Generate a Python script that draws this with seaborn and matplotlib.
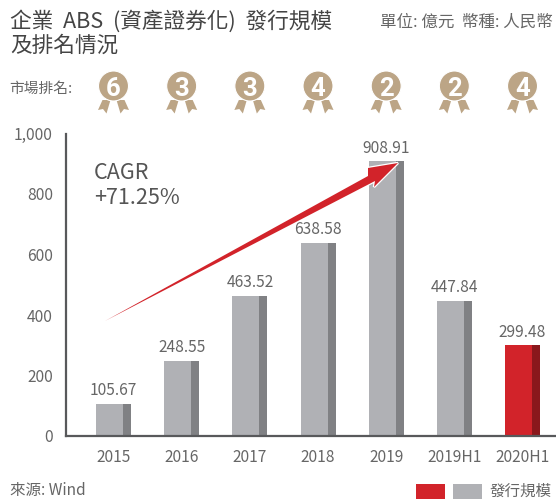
import matplotlib
matplotlib.use("Agg")
import matplotlib.pyplot as plt
import seaborn as sns
import pandas as pd
from matplotlib.patches import Circle, Polygon, Rectangle

categories = ["2015", "2016", "2017", "2018", "2019", "2019H1", "2020H1"]
values = [105.67, 248.55, 463.52, 638.58, 908.91, 447.84, 299.48]
value_labels = ["105.67", "248.55", "463.52", "638.58", "908.91", "447.84", "299.48"]
ranks = ["6", "3", "3", "4", "2", "2", "4"]
yticks = [0, 200, 400, 600, 800, 1000]
ytick_labels = ["0", "200", "400", "600", "800", "1,000"]
front_colors = ["#b0b1b5"] * 6 + ["#d2232a"]
side_colors = ["#808184"] * 6 + ["#8a181c"]

sns.set_theme(style="white")
plt.rcParams["font.family"] = ["Noto Sans CJK TC", "DejaVu Sans"]
TXT = "#666666"
W, H = 556, 499
fig = plt.figure(figsize=(W / 100, H / 100), dpi=100, facecolor="white")
ax = fig.add_axes([66 / W, 1 - 436 / H, (W - 66) / W, (436 - 133.5) / H])
df = pd.DataFrame({"cat": categories, "val": values})
BW, FW = 0.513, 0.396
sns.barplot(data=df, x="cat", y="val", hue="cat", palette=side_colors, legend=False,
            width=BW, saturation=1, ax=ax, dodge=False, linewidth=0)
n0 = len(ax.patches)
sns.barplot(data=df, x="cat", y="val", hue="cat", palette=front_colors, legend=False,
            width=FW, saturation=1, ax=ax, dodge=False, linewidth=0)
for p in ax.patches[n0:]:
    p.set_x(p.get_x() - (BW - FW) / 2)
for p, lab in zip(ax.patches[:n0], value_labels):
    ax.text(p.get_x() + p.get_width() / 2, p.get_height() + 15, lab, ha="center", va="bottom",
            fontsize=11.2, color=TXT)
ax.set_xlim(-0.698, 6.49)
ax.set_ylim(0, 1000)
ax.set_yticks(yticks, ytick_labels)
ax.set_xlabel("")
ax.set_ylabel("")
ax.tick_params(axis="both", length=0, labelsize=11.2, labelcolor=TXT)
ax.tick_params(axis="y", pad=9.5)
ax.tick_params(axis="x", pad=9)
sns.despine(ax=ax)
for s in ("left", "bottom"):
    ax.spines[s].set_color("#58595b")
    ax.spines[s].set_linewidth(1.6)
    ax.spines[s].set_zorder(5)

ov = fig.add_axes([0, 0, 1, 1], facecolor="none")
ov.set_xlim(0, W)
ov.set_ylim(H, 0)
ov.axis("off")

ov.text(10, 21, "企業  ABS  (資產證券化)  發行規模", fontsize=15.6, color="#444444", va="center")
ov.text(10, 46, "及排名情況", fontsize=15.6, color="#444444", va="center")
ov.text(553, 22, "單位: 億元  幣種: 人民幣", fontsize=11.9, color=TXT, va="center", ha="right")
ov.text(9, 89, "市場排名:", fontsize=10.6, color=TXT, va="center")
ov.text(94, 173, "CAGR", fontsize=15.5, color="#555555", va="center")
ov.text(94, 198, "+71.25%", fontsize=15.5, color="#555555", va="center")
ov.text(10, 491, "來源: Wind", fontsize=11.2, color=TXT, va="center")
ov.text(490, 491, "發行規模", fontsize=11.2, color=TXT, va="center")
ov.add_patch(Rectangle((416, 484), 29, 15, color="#d2232a", lw=0))
ov.add_patch(Rectangle((453, 484), 29, 15, color="#b0b1b5", lw=0))

GOLD = "#bca586"
for i, r in enumerate(ranks):
    cx = 113.5 + 68.17 * i
    for sgn in (-1, 1):
        ov.add_patch(Polygon([(cx + sgn * 3, 100), (cx + sgn * 11, 100), (cx + sgn * 15.5, 110),
                              (cx + sgn * 10.5, 109), (cx + sgn * 7, 113.5)], color=GOLD, lw=0))
    ov.add_patch(Circle((cx, 86), 15, facecolor=GOLD, edgecolor="white", lw=0.8, zorder=3))
    ov.text(cx, 86, r, fontsize=18.5, color="white", fontweight="bold", ha="center", va="center_baseline",
            family="Roboto", zorder=4)

arrow = [(105, 321), (368, 176), (368, 168), (398, 163), (374, 187), (375, 181)]
ov.add_patch(Polygon(arrow, closed=True, facecolor="white", edgecolor="white", lw=1.8, joinstyle="miter", zorder=6))
ov.add_patch(Polygon(arrow, closed=True, facecolor="#d2232a", lw=0, zorder=7))
fig.savefig("out.png", dpi=100)
